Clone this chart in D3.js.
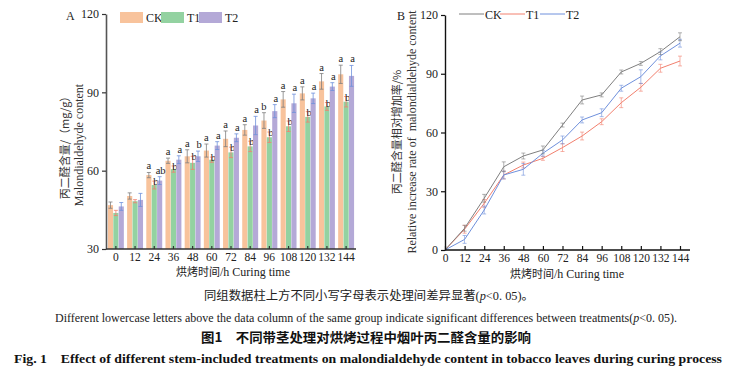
<!DOCTYPE html>
<html><head><meta charset="utf-8">
<script src="https://cdn.jsdelivr.net/npm/d3@7"></script>
<style>body{margin:0;background:#fff}svg{display:block}</style>
</head><body>
<script>
const times = [0,12,24,36,48,60,72,84,96,108,120,132,144];
const series = ["CK","T1","T2"];
// Panel A: malondialdehyde content (mg/g)
const mdaCK = [46.8,50.3,58.3,63.8,65.5,67.7,72.2,75.6,79.2,87.3,89.6,94.2,96.9];
const mdaT1 = [43.8,48.3,54.5,60.6,63.0,64.2,67.0,69.3,72.8,77.0,80.6,84.6,86.4];
const mdaT2 = [46.3,48.8,56.2,64.2,65.5,69.6,72.6,77.3,82.8,85.8,87.7,92.2,96.3];
const errCK = [1.2,1.2,1.0,1.0,2.5,2.5,3.0,2.0,3.0,3.0,2.5,3.0,3.5];
const errT1 = [1.0,0.6,1.5,1.2,2.5,1.0,2.0,2.0,2.0,2.0,2.0,1.5,2.0];
const errT2 = [1.5,2.5,1.5,1.5,2.0,1.5,1.5,3.5,2.5,3.5,2.0,1.5,4.0];
const letCK = ["","","a","a","a","a","a","a","b","a","a","a","a"];
const letT1 = ["","","b","b","b","b","b","b","b","b","b","b","b"];
const letT2 = ["","","ab","a","b","a","a","a","a","a","a","a","a"];
// Panel B: relative increase rate (%)
const rateCK = [0,11.1,26.4,42.5,48.0,51.1,63.8,76.6,79.2,90.9,95.3,101.3,108.9];
const rateT1 = [0,10.6,23.8,38.3,43.4,46.8,52.3,58.2,65.5,75.2,83.1,92.8,96.5];
const rateT2 = [0,5.4,20.4,38.3,41.2,49.4,56.2,66.4,70.1,82.6,88.5,99.1,105.6];
const rErrCK = [0,1.5,2.0,2.5,1.5,2.0,1.0,2.0,1.0,1.0,1.0,1.5,2.0];
const rErrT1 = [0,2.0,2.0,2.0,1.5,1.0,2.0,2.0,1.5,2.5,2.0,2.0,2.5];
const rErrT2 = [0,2.0,2.0,2.0,3.0,1.5,2.0,1.5,2.0,1.5,3.5,2.0,2.0];
const yTicksA = [30,60,90,120];
const yTicksB = [0,30,60,90,120];

const fillCol = {CK:"#f8c39c", T1:"#93d2a1", T2:"#b4a9d7"};
const lineCol = {CK:"#7f7f7f", T1:"#f2806e", T2:"#6f90dc"};
const serif = "'Liberation Serif','Times New Roman',serif";
const cjk = "'Noto Sans CJK SC',sans-serif";

const svg = d3.select("body").append("svg").attr("width",729).attr("height",375)
  .style("font-family", serif);

// ---------- Panel A ----------
const A = svg.append("g");
const yA = d3.scaleLinear().domain([30,120]).range([249,14]);
const xA = d3.scaleBand().domain(times).range([106,356]).paddingInner(0.17).paddingOuter(0.1);
const xS = d3.scaleBand().domain(series).range([0,xA.bandwidth()]).paddingInner(0.05);
const valsA = {CK:mdaCK, T1:mdaT1, T2:mdaT2};
const errsA = {CK:errCK, T1:errT1, T2:errT2};
const letsA = {CK:letCK, T1:letT1, T2:letT2};
const letDx = {CK:0, T1:1.5, T2:1};
const letDy = {CK:-3, T1:4, T2:-3};

series.forEach(s => {
  const data = times.map((t,i)=>({t, v:valsA[s][i], e:errsA[s][i], l:letsA[s][i]}));
  const g = A.append("g");
  g.selectAll("rect").data(data).join("rect")
    .attr("x", d=>xA(d.t)+xS(s)).attr("width", xS.bandwidth())
    .attr("y", d=>yA(d.v)).attr("height", d=>yA(30)-yA(d.v))
    .attr("fill", fillCol[s]);
  const cx = d=>xA(d.t)+xS(s)+xS.bandwidth()/2;
  g.selectAll("line.e").data(data).join("line").attr("class","e")
    .attr("x1",cx).attr("x2",cx).attr("y1",d=>yA(d.v+d.e)).attr("y2",d=>yA(d.v-d.e))
    .attr("stroke",lineCol[s]).attr("stroke-width",0.8);
  ["p","m"].forEach(k=>{
    g.selectAll("line.c"+k).data(data).join("line").attr("class","c"+k)
      .attr("x1",d=>cx(d)-2).attr("x2",d=>cx(d)+2)
      .attr("y1",d=>yA(k=="p"?d.v+d.e:d.v-d.e)).attr("y2",d=>yA(k=="p"?d.v+d.e:d.v-d.e))
      .attr("stroke",lineCol[s]).attr("stroke-width",0.8);
  });
  g.selectAll("text").data(data.filter(d=>d.l)).join("text")
    .attr("x",d=>cx(d)+letDx[s]).attr("y",d=>yA(d.v+d.e)+letDy[s])
    .attr("text-anchor","middle").attr("font-size",10.5).attr("fill","#222").text(d=>d.l);
});

// axes A
const axA = A.append("g").attr("transform","translate(106,0)")
  .call(d3.axisLeft(yA).tickValues(yTicksA).tickSize(4).tickSizeOuter(0));
axA.select(".domain").attr("stroke","#555").attr("stroke-width",1.6);
axA.selectAll(".tick line").attr("stroke","#333").attr("stroke-width",1.2);
axA.selectAll(".tick text").attr("font-family",serif).attr("font-size",12).attr("fill","#222");
const axAx = A.append("g").attr("transform","translate(0,249)")
  .call(d3.axisBottom(xA).tickSize(-3).tickSizeOuter(0));
axAx.select(".domain").attr("stroke","#333").attr("stroke-width",1.4).attr("d","M106,0H356");
axAx.selectAll(".tick line").attr("stroke","#333").attr("stroke-width",1.2);
axAx.selectAll(".tick text").attr("font-family",serif).attr("font-size",11.5).attr("fill","#222").attr("dy","0.75em");
A.append("text").attr("x",233).attr("y",276).attr("text-anchor","middle").attr("font-size",12)
  .attr("fill","#222").html(`<tspan font-family="${cjk}" font-size="11">烘烤时间</tspan>/h Curing time`);
A.append("text").attr("transform","translate(69,145) rotate(-90)").attr("text-anchor","middle")
  .attr("font-size",11).attr("fill","#333")
  .html(`<tspan font-family="${cjk}">丙二醛含量/</tspan><tspan font-family="${cjk}">（mg/g）</tspan>`);
A.append("text").attr("transform","translate(83,145) rotate(-90)").attr("text-anchor","middle")
  .attr("font-size",12).attr("fill","#333").text("Malondialdehyde content");
A.append("text").attr("x",66).attr("y",20).attr("font-size",12).attr("fill","#222").text("A");
// legend A
series.forEach((s,i)=>{
  const x0 = [120,161,199][i];
  A.append("rect").attr("x",x0).attr("y",12).attr("width",23).attr("height",11).attr("fill",fillCol[s]);
  A.append("text").attr("x",x0+26).attr("y",22).attr("font-size",12).attr("fill","#222").text(s);
});

// ---------- Panel B ----------
const B = svg.append("g");
const yB = d3.scaleLinear().domain([0,120]).range([250,15]);
const xB = d3.scaleLinear().domain([0,144]).range([445,680]);
const valsB = {CK:rateCK, T1:rateT1, T2:rateT2};
const errsB = {CK:rErrCK, T1:rErrT1, T2:rErrT2};
const line = d3.line().x(d=>xB(d.t)).y(d=>yB(d.v));
["T1","T2","CK"].forEach(s=>{
  const data = times.map((t,i)=>({t, v:valsB[s][i], e:errsB[s][i]}));
  const g = B.append("g");
  g.append("path").datum(data).attr("d",line).attr("fill","none").attr("stroke",lineCol[s]).attr("stroke-width",1);
  const eb = data.filter(d=>d.e>0);
  g.selectAll("line.e").data(eb).join("line").attr("class","e")
    .attr("x1",d=>xB(d.t)).attr("x2",d=>xB(d.t)).attr("y1",d=>yB(d.v+d.e)).attr("y2",d=>yB(d.v-d.e))
    .attr("stroke",lineCol[s]).attr("stroke-width",0.8).attr("opacity",0.75);
  ["p","m"].forEach(k=>{
    g.selectAll("line.c"+k).data(eb).join("line").attr("class","c"+k)
      .attr("x1",d=>xB(d.t)-2).attr("x2",d=>xB(d.t)+2)
      .attr("y1",d=>yB(k=="p"?d.v+d.e:d.v-d.e)).attr("y2",d=>yB(k=="p"?d.v+d.e:d.v-d.e))
      .attr("stroke",lineCol[s]).attr("stroke-width",0.8).attr("opacity",0.75);
  });
});
const axB = B.append("g").attr("transform","translate(445,0)")
  .call(d3.axisLeft(yB).tickValues(yTicksB).tickSize(4).tickSizeOuter(0));
axB.select(".domain").attr("stroke","#111").attr("stroke-width",1.4);
axB.selectAll(".tick line").attr("stroke","#111").attr("stroke-width",1.2);
axB.selectAll(".tick text").attr("font-family",serif).attr("font-size",12).attr("fill","#222");
const axBx = B.append("g").attr("transform","translate(0,250)")
  .call(d3.axisBottom(xB).tickValues(times).tickSize(-4).tickSizeOuter(0));
axBx.select(".domain").attr("stroke","#111").attr("stroke-width",1.4).attr("d","M445,0H690");
axBx.selectAll(".tick line").attr("stroke","#111").attr("stroke-width",1.2);
axBx.selectAll(".tick text").attr("font-family",serif).attr("font-size",11.5).attr("fill","#222").attr("dy","0.8em");
B.append("text").attr("x",567).attr("y",278).attr("text-anchor","middle").attr("font-size",12)
  .attr("fill","#222").html(`<tspan font-family="${cjk}" font-size="11">烘烤时间</tspan>/h Curing time`);
B.append("text").attr("transform","translate(401,132) rotate(-90)").attr("text-anchor","middle")
  .attr("font-size",11).attr("fill","#333").attr("font-family",cjk).text("丙二醛含量相对增加率/%");
B.append("text").attr("transform","translate(416,132) rotate(-90)").attr("text-anchor","middle")
  .attr("font-size",12).attr("fill","#333").style("white-space","pre")
  .text("Relative increase rate of  malondialdehyde content");
B.append("text").attr("x",397).attr("y",20).attr("font-size",12).attr("fill","#222").text("B");
series.forEach((s,i)=>{
  const x0 = [459,500,540][i];
  B.append("line").attr("x1",x0).attr("x2",x0+25).attr("y1",14).attr("y2",14).attr("stroke",lineCol[s]).attr("stroke-width",1);
  B.append("text").attr("x",x0+26).attr("y",19).attr("font-size",12).attr("fill","#222").text(s);
});

// ---------- Captions ----------
svg.append("text").attr("x",369).attr("y",300).attr("text-anchor","middle").attr("font-size",12)
  .attr("fill","#222").attr("textLength",330).attr("lengthAdjust","spacingAndGlyphs")
  .html(`<tspan font-family="${cjk}">同组数据柱上方不同小写字母表示处理间差异显著</tspan>(<tspan font-style="italic">p</tspan>&lt;0. 05)<tspan font-family="${cjk}">。</tspan>`);
svg.append("text").attr("x",366).attr("y",322).attr("text-anchor","middle").attr("font-size",11.5)
  .attr("fill","#222").attr("textLength",622).attr("lengthAdjust","spacingAndGlyphs")
  .html(`Different lowercase letters above the data column of the same group indicate significant differences between treatments(<tspan font-style="italic">p</tspan>&lt;0. 05).`);
svg.append("text").attr("x",366).attr("y",342).attr("text-anchor","middle").attr("font-size",13)
  .attr("font-family",cjk).attr("font-weight","bold").attr("fill","#111")
  .attr("textLength",330).attr("lengthAdjust","spacingAndGlyphs")
  .text("图1　不同带茎处理对烘烤过程中烟叶丙二醛含量的影响");
svg.append("text").attr("x",368).attr("y",363).attr("text-anchor","middle").attr("font-size",13)
  .attr("font-weight","bold").attr("fill","#111").style("white-space","pre")
  .attr("textLength",708).attr("lengthAdjust","spacingAndGlyphs")
  .text("Fig. 1    Effect of different stem-included treatments on malondialdehyde content in tobacco leaves during curing process");
</script>
</body></html>
